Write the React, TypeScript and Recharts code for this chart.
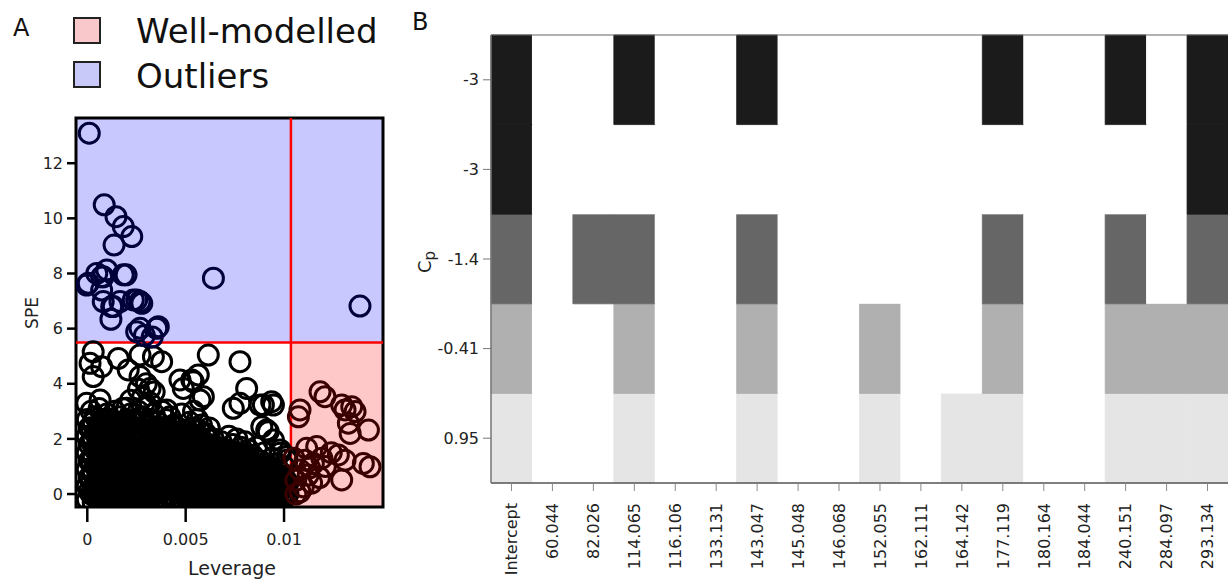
import React from "react";
import {
  ScatterChart, Scatter, XAxis, YAxis, ReferenceArea, ReferenceLine,
  BarChart, Bar, Cell,
} from "recharts";

// ---------- Panel A data ----------
const levTicks = [0, 0.005, 0.01];
const speTicks = [0, 2, 4, 6, 8, 10, 12];
const levLimit = 0.01035;
const speLimit = 5.5;
const levDomain: [number, number] = [-0.000574, 0.01503];
const speDomain: [number, number] = [-0.47, 13.64];

// outliers (SPE above limit)
const outlierPts: [number, number][] = [
  [0.0001, 13.09], [0.00086, 10.49], [0.00146, 10.06], [0.00183, 9.7], [0.00226, 9.34],
  [0.00136, 9.03], [0.00005, 7.65], [0.00048, 8.0], [0.00073, 7.88], [0.00099, 8.13],
  [0.00197, 7.95], [0.00073, 7.4], [0.00081, 6.98], [0.00124, 6.8], [0.0012, 6.34],
  [0.00166, 6.98], [0.00234, 7.04], [0.00268, 6.98], [0.00277, 6.92], [0.00251, 5.89],
  [0.00353, 6.01], [0.00641, 7.83], [0.01386, 6.82], [0.00183, 7.95], [0.00251, 7.04],
  [-0.00003, 7.58], [0.00081, 7.88], [0.00132, 6.8], [0.00268, 6.01], [0.00361, 6.07],
  [0.0029, 5.75], [0.0033, 5.7],
];

// high-leverage, well-modelled samples
const wellPts: [number, number][] = [
  [0.01183, 3.71], [0.01208, 3.53], [0.01293, 3.23], [0.01344, 3.17], [0.01361, 2.99],
  [0.0131, 3.05], [0.01327, 2.57], [0.01336, 2.2], [0.01429, 2.32], [0.01081, 3.05],
  [0.01073, 2.8], [0.01115, 1.66], [0.01166, 1.72], [0.01107, 1.23], [0.01149, 1.11],
  [0.01192, 1.3], [0.01081, 0.87], [0.01123, 0.69], [0.01098, 0.26], [0.01081, 0.08],
  [0.01276, 1.42], [0.0131, 1.23], [0.01293, 0.51], [0.01403, 1.11], [0.01437, 0.99],
  [0.0106, 0.5], [0.0114, 0.4], [0.0121, 1.0], [0.0124, 1.5], [0.0105, 1.3], [0.0106, 0.0],
  [0.0113, 0.95], [0.0118, 0.6],
];

// sparse upper part of the main cloud
const cloudUpper: [number, number][] = [
  [0.0003, 5.16], [0.00014, 4.74], [0.00073, 4.62], [0.0003, 4.26], [0.00158, 4.92],
  [0.00208, 4.5], [0.00268, 5.04], [0.00336, 4.98], [0.00378, 4.8], [0.00268, 4.26],
  [0.00615, 5.04], [0.00776, 4.8], [0.00531, 4.14], [0.00488, 3.83], [0.0081, 3.83],
  [0.00573, 3.41], [0.00742, 3.11], [0.00776, 3.29], [0.00878, 3.23], [0.00946, 3.23],
  [0.00912, 2.32], [0.00946, 1.96], [0.0098, 1.48], [0.01014, 1.23], [0.002, 3.11],
  [0.00065, 3.41], [-0.00003, 3.29], [0.00319, 3.83], [0.00404, 3.05], [0.00564, 4.32],
  [0.00539, 4.07], [0.00895, 3.23], [0.00937, 3.35], [0.00887, 2.44], [0.0092, 2.26],
  [0.0098, 1.6], [0.01014, 1.35], [0.0059, 3.53], [0.00471, 4.14],
];

// dense lower part of the main cloud
const cloudDense: [number, number][] = [
  [0.0, -0.2], [0.0, 0.3], [0.0, 0.9], [0.0, 1.5], [0.0, 2.1], [0.0, 2.7],
  [0.0002, 0.0], [0.0002, 0.6], [0.0002, 1.2], [0.0002, 1.9], [0.0002, 2.4], [0.0002, 3.0],
  [0.0004, -0.1], [0.0004, 0.4], [0.0004, 1.0], [0.0004, 1.6], [0.0004, 2.2], [0.0004, 2.8],
  [0.0006, 0.1], [0.0006, 0.7], [0.0006, 1.3], [0.0006, 1.8], [0.0006, 2.5], [0.0006, 3.1],
  [0.0008, -0.2], [0.0008, 0.3], [0.0008, 0.9], [0.0008, 1.4], [0.0008, 2.0], [0.0008, 2.6],
  [0.001, 0.0], [0.001, 0.5], [0.001, 1.1], [0.001, 1.7], [0.001, 2.3], [0.001, 2.9],
  [0.0012, -0.1], [0.0012, 0.4], [0.0012, 0.8], [0.0012, 1.5], [0.0012, 2.1], [0.0012, 2.7],
  [0.0014, 0.2], [0.0014, 0.7], [0.0014, 1.2], [0.0014, 1.9], [0.0014, 2.4], [0.0014, 3.0],
  [0.0016, -0.2], [0.0016, 0.3], [0.0016, 1.0], [0.0016, 1.6], [0.0016, 2.2], [0.0016, 2.8],
  [0.0018, 0.1], [0.0018, 0.6], [0.0018, 1.3], [0.0018, 1.8], [0.0018, 2.5], [0.0018, 3.1],
  [0.002, -0.1], [0.002, 0.5], [0.002, 0.9], [0.002, 1.4], [0.002, 2.0], [0.002, 2.7],
  [0.0022, 0.0], [0.0022, 0.4], [0.0022, 1.1], [0.0022, 1.7], [0.0022, 2.3], [0.0022, 2.9], [0.0022, 3.4],
  [0.0024, -0.2], [0.0024, 0.3], [0.0024, 0.8], [0.0024, 1.5], [0.0024, 2.1], [0.0024, 2.6],
  [0.0026, 0.1], [0.0026, 0.6], [0.0026, 1.2], [0.0026, 1.9], [0.0026, 2.4], [0.0026, 3.0], [0.0026, 3.8],
  [0.0028, -0.1], [0.0028, 0.4], [0.0028, 1.0], [0.0028, 1.6], [0.0028, 2.2], [0.0028, 2.8], [0.0028, 3.5],
  [0.003, 0.0], [0.003, 0.5], [0.003, 1.3], [0.003, 1.8], [0.003, 2.5], [0.003, 3.2], [0.003, 4.0],
  [0.0032, -0.2], [0.0032, 0.3], [0.0032, 0.9], [0.0032, 1.4], [0.0032, 2.0], [0.0032, 2.7], [0.0032, 3.3],
  [0.0034, 0.2], [0.0034, 0.7], [0.0034, 1.1], [0.0034, 1.7], [0.0034, 2.3], [0.0034, 2.9], [0.0034, 3.7],
  [0.0036, -0.1], [0.0036, 0.4], [0.0036, 1.0], [0.0036, 1.5], [0.0036, 2.1], [0.0036, 2.6],
  [0.0038, 0.1], [0.0038, 0.6], [0.0038, 1.2], [0.0038, 1.8], [0.0038, 2.4], [0.0038, 3.0],
  [0.004, -0.2], [0.004, 0.3], [0.004, 0.8], [0.004, 1.4], [0.004, 2.0], [0.004, 2.7],
  [0.0042, 0.0], [0.0042, 0.5], [0.0042, 1.1], [0.0042, 1.6], [0.0042, 2.2], [0.0042, 2.8],
  [0.0044, -0.1], [0.0044, 0.4], [0.0044, 0.9], [0.0044, 1.5], [0.0044, 2.1], [0.0044, 2.5],
  [0.0046, 0.2], [0.0046, 0.7], [0.0046, 1.3], [0.0046, 1.9], [0.0046, 2.4],
  [0.0048, -0.2], [0.0048, 0.3], [0.0048, 1.0], [0.0048, 1.6], [0.0048, 2.2], [0.0048, 2.9],
  [0.005, 0.1], [0.005, 0.6], [0.005, 1.2], [0.005, 1.7], [0.005, 2.3],
  [0.0052, -0.1], [0.0052, 0.4], [0.0052, 0.9], [0.0052, 1.5], [0.0052, 2.0], [0.0052, 2.6],
  [0.0054, 0.0], [0.0054, 0.5], [0.0054, 1.1], [0.0054, 1.8], [0.0054, 2.4], [0.0054, 3.0],
  [0.0056, -0.2], [0.0056, 0.3], [0.0056, 0.8], [0.0056, 1.4], [0.0056, 2.1], [0.0056, 2.7],
  [0.0058, 0.1], [0.0058, 0.7], [0.0058, 1.2], [0.0058, 1.9], [0.0058, 2.5],
  [0.006, -0.1], [0.006, 0.4], [0.006, 1.0], [0.006, 1.6], [0.006, 2.2],
  [0.0062, 0.0], [0.0062, 0.6], [0.0062, 1.3], [0.0062, 1.8], [0.0062, 2.4],
  [0.0064, -0.2], [0.0064, 0.3], [0.0064, 0.9], [0.0064, 1.5], [0.0064, 2.0],
  [0.0066, 0.1], [0.0066, 0.5], [0.0066, 1.1], [0.0066, 1.7],
  [0.0068, -0.1], [0.0068, 0.4], [0.0068, 0.8], [0.0068, 1.4], [0.0068, 1.9],
  [0.007, 0.0], [0.007, 0.6], [0.007, 1.2], [0.007, 1.6],
  [0.0072, -0.2], [0.0072, 0.3], [0.0072, 0.9], [0.0072, 1.5], [0.0072, 2.1],
  [0.0074, 0.1], [0.0074, 0.7], [0.0074, 1.1], [0.0074, 1.8],
  [0.0076, -0.1], [0.0076, 0.4], [0.0076, 1.0], [0.0076, 1.4], [0.0076, 2.0],
  [0.0078, 0.0], [0.0078, 0.5], [0.0078, 1.2], [0.0078, 1.7],
  [0.008, -0.2], [0.008, 0.3], [0.008, 0.8], [0.008, 1.3], [0.008, 1.9],
  [0.0082, 0.1], [0.0082, 0.6], [0.0082, 1.1], [0.0082, 1.6],
  [0.0084, -0.1], [0.0084, 0.4], [0.0084, 0.9], [0.0084, 1.4],
  [0.0086, 0.0], [0.0086, 0.5], [0.0086, 1.0], [0.0086, 1.7],
  [0.0088, -0.2], [0.0088, 0.3], [0.0088, 0.8], [0.0088, 1.2],
  [0.009, 0.1], [0.009, 0.6], [0.009, 1.1], [0.009, 1.5],
  [0.0092, -0.1], [0.0092, 0.2], [0.0092, 0.7], [0.0092, 1.0],
  [0.0094, 0.0], [0.0094, 0.5], [0.0094, 0.9], [0.0094, 1.3],
  [0.0096, -0.2], [0.0096, 0.3], [0.0096, 0.6], [0.0096, 1.1],
  [0.0098, 0.1], [0.0098, 0.4], [0.0098, 0.8],
  [0.01, -0.1], [0.01, 0.3], [0.01, 0.6], [0.01, 1.0],
  [0.0102, 0.0], [0.0102, 0.4],
];

// dense core, second pass (samples lying between the ones above)
const cloudCore: [number, number][] = [
  [0.0001, 0.1], [0.0001, 0.6], [0.0001, 1.2], [0.0001, 1.8], [0.0001, 2.4],
  [0.0003, -0.3], [0.0003, 0.2], [0.0003, 0.8], [0.0003, 1.4], [0.0003, 2.0], [0.0003, 2.6],
  [0.0005, 0.0], [0.0005, 0.5], [0.0005, 1.1], [0.0005, 1.7], [0.0005, 2.3],
  [0.0007, -0.2], [0.0007, 0.2], [0.0007, 0.8], [0.0007, 1.3], [0.0007, 1.9], [0.0007, 2.6],
  [0.0009, 0.1], [0.0009, 0.6], [0.0009, 1.2], [0.0009, 1.8], [0.0009, 2.4],
  [0.0011, -0.3], [0.0011, 0.2], [0.0011, 0.7], [0.0011, 1.3], [0.0011, 1.9], [0.0011, 2.5],
  [0.0013, 0.0], [0.0013, 0.5], [0.0013, 1.0], [0.0013, 1.6], [0.0013, 2.3],
  [0.0015, -0.2], [0.0015, 0.3], [0.0015, 0.8], [0.0015, 1.4], [0.0015, 2.0], [0.0015, 2.6],
  [0.0017, 0.0], [0.0017, 0.5], [0.0017, 1.1], [0.0017, 1.7], [0.0017, 2.2],
  [0.0019, -0.3], [0.0019, 0.2], [0.0019, 0.8], [0.0019, 1.4], [0.0019, 2.1], [0.0019, 2.6],
  [0.0021, 0.1], [0.0021, 0.6], [0.0021, 1.2], [0.0021, 1.8], [0.0021, 2.4],
  [0.0023, -0.2], [0.0023, 0.2], [0.0023, 0.7], [0.0023, 1.3], [0.0023, 1.9], [0.0023, 2.6],
  [0.0025, 0.0], [0.0025, 0.5], [0.0025, 1.0], [0.0025, 1.6], [0.0025, 2.3],
  [0.0027, -0.3], [0.0027, 0.3], [0.0027, 0.8], [0.0027, 1.4], [0.0027, 2.0], [0.0027, 2.6],
  [0.0029, 0.1], [0.0029, 0.6], [0.0029, 1.1], [0.0029, 1.7], [0.0029, 2.3],
  [0.0031, -0.2], [0.0031, 0.2], [0.0031, 0.7], [0.0031, 1.2], [0.0031, 1.9], [0.0031, 2.5],
  [0.0033, 0.0], [0.0033, 0.5], [0.0033, 1.0], [0.0033, 1.6], [0.0033, 2.2],
  [0.0035, -0.3], [0.0035, 0.2], [0.0035, 0.8], [0.0035, 1.3], [0.0035, 1.9], [0.0035, 2.4],
  [0.0037, 0.1], [0.0037, 0.6], [0.0037, 1.2], [0.0037, 1.8], [0.0037, 2.3],
  [0.0039, -0.2], [0.0039, 0.3], [0.0039, 0.8], [0.0039, 1.4], [0.0039, 2.0],
  [0.0041, 0.0], [0.0041, 0.5], [0.0041, 1.0], [0.0041, 1.7], [0.0041, 2.3],
  [0.0043, -0.3], [0.0043, 0.2], [0.0043, 0.7], [0.0043, 1.3], [0.0043, 1.8],
  [0.0045, 0.1], [0.0045, 0.6], [0.0045, 1.1], [0.0045, 1.7], [0.0045, 2.2],
  [0.0047, -0.2], [0.0047, 0.4], [0.0047, 0.8], [0.0047, 1.4], [0.0047, 2.0],
  [0.0049, 0.0], [0.0049, 0.5], [0.0049, 1.0], [0.0049, 1.5], [0.0049, 2.1],
  [0.0051, -0.3], [0.0051, 0.2], [0.0051, 0.7], [0.0051, 1.3], [0.0051, 1.8],
  [0.0053, 0.1], [0.0053, 0.6], [0.0053, 1.2], [0.0053, 1.7], [0.0053, 2.2],
  [0.0055, -0.2], [0.0055, 0.3], [0.0055, 0.8], [0.0055, 1.4], [0.0055, 2.0],
  [0.0057, 0.0], [0.0057, 0.5], [0.0057, 1.0], [0.0057, 1.6], [0.0057, 2.3],
  [0.0059, -0.3], [0.0059, 0.2], [0.0059, 0.7], [0.0059, 1.3], [0.0059, 1.8],
  [0.0061, 0.1], [0.0061, 0.6], [0.0061, 1.1], [0.0061, 1.7], [0.0061, 2.0],
  [0.0063, -0.2], [0.0063, 0.3], [0.0063, 0.8], [0.0063, 1.2], [0.0063, 1.7],
  [0.0065, 0.0], [0.0065, 0.5], [0.0065, 1.0], [0.0065, 1.4],
  [0.0067, -0.3], [0.0067, 0.2], [0.0067, 0.7], [0.0067, 1.2], [0.0067, 1.6],
  [0.0069, 0.1], [0.0069, 0.6], [0.0069, 1.0], [0.0069, 1.4],
  [0.0071, -0.2], [0.0071, 0.3], [0.0071, 0.8], [0.0071, 1.3],
  [0.0073, 0.0], [0.0073, 0.5], [0.0073, 1.0], [0.0073, 1.5],
  [0.0075, -0.3], [0.0075, 0.2], [0.0075, 0.7], [0.0075, 1.2],
  [0.0077, 0.1], [0.0077, 0.6], [0.0077, 1.0], [0.0077, 1.5],
  [0.0079, -0.2], [0.0079, 0.3], [0.0079, 0.8], [0.0079, 1.2],
  [0.0081, 0.0], [0.0081, 0.5], [0.0081, 0.9], [0.0081, 1.4],
  [0.0083, -0.3], [0.0083, 0.2], [0.0083, 0.7], [0.0083, 1.1],
  [0.0085, 0.1], [0.0085, 0.5], [0.0085, 0.9], [0.0085, 1.3],
  [0.0087, -0.2], [0.0087, 0.3], [0.0087, 0.6], [0.0087, 1.0],
  [0.0089, 0.0], [0.0089, 0.4], [0.0089, 0.9],
  [0.0091, -0.3], [0.0091, 0.2], [0.0091, 0.5], [0.0091, 0.9],
  [0.0093, 0.1], [0.0093, 0.4], [0.0093, 0.8],
  [0.0095, -0.2], [0.0095, 0.2], [0.0095, 0.6],
  [0.0097, 0.0], [0.0097, 0.4], [0.0097, 0.7],
  [0.0099, -0.3], [0.0099, 0.2], [0.0099, 0.5],
  [0.0101, 0.1], [0.0101, 0.5],
];

// ---------- Panel B data ----------
const masses = [
  "Intercept", "60.044", "82.026", "114.065", "116.106", "133.131", "143.047", "145.048",
  "146.068", "152.055", "162.111", "164.142", "177.119", "180.164", "184.044", "240.151",
  "284.097", "293.134",
];
// Cp row labels, bottom to top
const cpLabels = ["0.95", "-0.41", "-1.4", "-3", "-3"];
const rowShades = ["#e5e5e5", "#b0b0b0", "#666666", "#1b1b1b", "#1b1b1b"];
const rowCp095 = [1, 0, 0, 1, 0, 0, 1, 0, 0, 1, 0, 1, 1, 0, 0, 1, 1, 1];
const rowCp041 = [1, 0, 0, 1, 0, 0, 1, 0, 0, 1, 0, 0, 1, 0, 0, 1, 1, 1];
const rowCp14 = [1, 0, 1, 1, 0, 0, 1, 0, 0, 0, 0, 0, 1, 0, 0, 1, 0, 1];
const rowCp3b = [1, 0, 0, 0, 0, 0, 0, 0, 0, 0, 0, 0, 0, 0, 0, 0, 0, 1];
const rowCp3a = [1, 0, 0, 1, 0, 0, 1, 0, 0, 0, 0, 0, 1, 0, 0, 1, 0, 1];
const rowsIn = [rowCp095, rowCp041, rowCp14, rowCp3b, rowCp3a];

const FONT = "DejaVu Sans";

const toPts = (arr: [number, number][]) => arr.map(([x, y]) => ({ x, y }));
const allPts = [
  ...toPts(cloudDense), ...toPts(cloudCore), ...toPts(cloudUpper),
  ...toPts(wellPts), ...toPts(outlierPts),
];

const Ring = (p: any) => {
  const d = p.payload || {};
  let stroke = "#000";
  if (d.y > speLimit) stroke = "#00003a";
  else if (d.x > levLimit) stroke = "#3a0000";
  return <circle cx={p.cx} cy={p.cy} r={10} fill="none" stroke={stroke} strokeWidth={3} />;
};

const heatData = masses.map((m) => ({ name: m, r0: 1, r1: 1, r2: 1, r3: 1, r4: 1 }));

const MassTick = (p: any) => (
  <g transform={`translate(${p.x},${p.y})`}>
    <text
      transform="rotate(-90)"
      x={0}
      y={0}
      dy="0.36em"
      textAnchor="end"
      fontSize={16}
      fontFamily={FONT}
      fill="#222"
    >
      {p.payload.value}
    </text>
  </g>
);

export default function App() {
  return (
    <div style={{ position: "absolute", left: 0, top: 0, width: 1228, height: 585, background: "#fff" }}>
      <div style={{ position: "absolute", left: 0, top: 0 }}>
        <ScatterChart width={400} height={585} margin={{ top: 118, right: 17, bottom: 0, left: 0 }}>
          <XAxis
            type="number"
            dataKey="x"
            domain={levDomain}
            ticks={levTicks}
            allowDataOverflow
            height={78}
            tickSize={15}
            tickMargin={12}
            axisLine={false}
            tickLine={{ stroke: "#000", strokeWidth: 2.5 }}
            tick={{ fontSize: 16, fill: "#222", fontFamily: FONT }}
          />
          <YAxis
            type="number"
            dataKey="y"
            domain={speDomain}
            ticks={speTicks}
            allowDataOverflow
            width={76}
            tickSize={9}
            tickMargin={4}
            axisLine={false}
            tickLine={{ stroke: "#000", strokeWidth: 2.5 }}
            tick={{ fontSize: 16, fill: "#222", fontFamily: FONT }}
          />
          <ReferenceArea x1={levDomain[0]} x2={levDomain[1]} y1={speLimit} y2={speDomain[1]} fill="#0000ff" fillOpacity={0.215} stroke="none" />
          <ReferenceArea x1={levLimit} x2={levDomain[1]} y1={speDomain[0]} y2={speLimit} fill="#ff0000" fillOpacity={0.215} stroke="none" />
          <Scatter data={allPts} shape={Ring} isAnimationActive={false} />
          <ReferenceLine x={levLimit} stroke="#ff0000" strokeWidth={2.5} />
          <ReferenceLine y={speLimit} stroke="#ff0000" strokeWidth={2.5} />
          <ReferenceArea x1={levDomain[0]} x2={levDomain[1]} y1={speDomain[0]} y2={speDomain[1]} fill="none" stroke="#000" strokeWidth={3} />
        </ScatterChart>
      </div>

      <div style={{ position: "absolute", left: 400, top: 0 }}>
        <BarChart
          width={828}
          height={585}
          data={heatData}
          margin={{ top: 35, right: 0, bottom: 0, left: 0 }}
          barCategoryGap={0}
          barGap={0}
        >
          <XAxis
            dataKey="name"
            interval={0}
            height={102}
            tickSize={8}
            tickMargin={12}
            axisLine={{ stroke: "#555", strokeWidth: 1.5 }}
            tickLine={{ stroke: "#888" }}
            tick={<MassTick />}
          />
          <YAxis
            type="number"
            domain={[0, 5]}
            ticks={[0.5, 1.5, 2.5, 3.5, 4.5]}
            tickFormatter={(v: number) => cpLabels[Math.floor(v)]}
            width={91}
            tickSize={8}
            tickMargin={4}
            axisLine={{ stroke: "#777", strokeWidth: 1.5 }}
            tickLine={{ stroke: "#777" }}
            tick={{ fontSize: 16, fill: "#222", fontFamily: FONT }}
          />
          {rowsIn.map((row, k) => (
            <Bar key={k} dataKey={`r${k}`} stackId="s" isAnimationActive={false}>
              {masses.map((m, i) => (
                <Cell
                  key={m}
                  fill={row[i] ? rowShades[k] : "#ffffff"}
                  stroke={row[i] ? rowShades[k] : "none"}
                  strokeWidth={0.8}
                />
              ))}
            </Bar>
          ))}
          <ReferenceLine y={5} stroke="#666" strokeWidth={1.2} />
        </BarChart>
      </div>

      <svg width={1228} height={585} style={{ position: "absolute", left: 0, top: 0, pointerEvents: "none" }}>
        <text x={13} y={36} fontSize={24} fontFamily={FONT} fill="#111">A</text>
        <text x={412} y={30} fontSize={24} fontFamily={FONT} fill="#111">B</text>
        <rect x={74} y={18} width={26} height={25} fill="#f9c8cb" stroke="#222" strokeWidth={2} />
        <rect x={74} y={62} width={26} height={25} fill="#c8c9f8" stroke="#222" strokeWidth={2} />
        <text x={136} y={43} fontSize={34} fontFamily={FONT} fill="#111">Well-modelled</text>
        <text x={136} y={88} fontSize={34} fontFamily={FONT} fill="#111">Outliers</text>
        <text x={0} y={0} transform="translate(38,313) rotate(-90)" textAnchor="middle" fontSize={17} fontFamily={FONT} fill="#222">SPE</text>
        <text x={232} y={575} textAnchor="middle" fontSize={19} fontFamily={FONT} fill="#222">Leverage</text>
        <text x={0} y={0} transform="translate(431,262) rotate(-90)" textAnchor="middle" fontSize={18} fontFamily={FONT} fill="#222">
          C<tspan dy="4" fontSize={15}>p</tspan>
        </text>
      </svg>
    </div>
  );
}
